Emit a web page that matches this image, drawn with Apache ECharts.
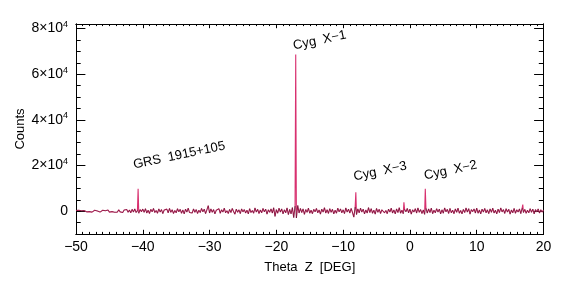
<!DOCTYPE html>
<html><head><meta charset="utf-8">
<script src="https://cdn.jsdelivr.net/npm/echarts@6/dist/echarts.min.js"></script>
<style>html,body{margin:0;padding:0;background:#fff}#c{width:566px;height:283px}</style>
</head><body><div id="c"></div>
<script>
// Sample grid of the scan (Theta Z, degrees)
const thetaStart = -50, thetaStep = 0.2;
// Background counts, one per 0.2 deg from -50 to 20
const noiseCounts = [
 300,-200,400,-300,200,-400,300,-100,-300,400,
 -200,300,-400,200,400,-300,100,300,-400,200,
 400,-300,200,-200,500,-400,300,-200,400,-500,
 300,-400,600,-300,400,-600,500,-200,700,-500,
 500,-700,800,-400,1000,-600,300,-900,700,-200,
 900,-500,1100,-800,400,-1000,800,-300,1200,-600,
 300,-900,1000,-400,700,-1100,500,-200,900,-700,
 1200,-500,600,-1000,300,-700,1100,-300,800,-900,
 500,-1200,900,-400,1300,-600,200,-800,1000,-500,
 700,-1000,400,-600,1200,-300,900,-1100,600,2400,
 -800,1000,-500,700,-1200,400,-300,1100,-900,600,
 -400,1300,-700,200,-1000,800,-600,1200,-200,-1300,
 900,-500,600,-1100,1000,-300,700,-800,400,-1200,
 1100,-600,300,-900,1400,-400,800,-1000,500,-700,
 1200,-300,900,-1300,600,-500,1000,-800,1500,-2300,
 700,-900,1300,-400,1000,-1200,600,-700,1400,-1500,
 800,-1200,1600,-2800,2200,-3000,2500,-800,1200,-600,
 1000,-1400,700,-500,1300,-900,400,-1100,800,-300,
 1200,-700,500,-1300,900,-400,1500,-800,600,-1000,
 1100,-500,800,-1200,400,-900,1300,-300,1000,-700,
 600,-1100,1400,-400,900,-800,1200,-600,-2600,1800,
 -1500,1000,-700,1300,-400,900,-1200,500,-800,1600,
 -600,1100,-900,400,-1300,1200,-500,800,-1000,600,
 1400,-700,300,-1100,900,-400,1300,-800,500,-1200,
 1000,-600,1500,-900,400,-1100,800,-300,1200,-700,
 900,-1300,600,-400,1100,-800,1400,-500,700,-1000,
 500,-1400,1200,-800,1000,-600,1300,-1100,400,-700,
 1100,-400,900,-1200,600,-900,1400,-300,800,-1000,
 1200,-700,400,-1100,1000,-500,1300,-900,300,-1200,
 800,-600,1400,-400,1100,-1300,700,-200,1000,-800,
 1300,-900,500,-1200,900,-400,1200,-700,600,-1100,
 1000,-500,1300,-800,400,-1200,900,-600,1400,-300,
 700,-1000,1100,-400,800,-1300,500,-700,1200,-900,
 600,-400,1000,-1100,1300,-600,800,-900,400,-700,
 1100,-500,900,-1200,700,-300,1000,-800,600,-400,
 500
];
// Source peaks
const peakTheta  = [-40.7, -17.1, -8.1, -0.9, 2.3, 16.9];
const peakCounts = [9800, 68600, 8300, 3900, 9800, 2900];
// Annotations
const sourceNames  = ['GRS  1915+105', 'Cyg  X\u22121', 'Cyg  X\u22123', 'Cyg  X\u22122'];
const sourceTheta  = [-41.2, -17.25, -8.2, 2.35];
const sourceCounts = [17400, 69600, 12200, 12600];
// Ticks
const xMajorTicks = [-50,-40,-30,-20,-10,0,10,20];
const xMinorTicks = [-50,-49,-48,-47,-46,-45,-44,-43,-42,-41,-40,-39,-38,-37,-36,-35,-34,-33,-32,-31,-30,-29,-28,-27,-26,-25,-24,-23,-22,-21,-20,-19,-18,-17,-16,-15,-14,-13,-12,-11,-10,-9,-8,-7,-6,-5,-4,-3,-2,-1,0,1,2,3,4,5,6,7,8,9,10,11,12,13,14,15,16,17,18,19,20];
const yMajorTicks = [0,20000,40000,60000,80000];
const yMinorTicks = [-5000,0,5000,10000,15000,20000,25000,30000,35000,40000,45000,50000,55000,60000,65000,70000,75000,80000];

const gridTheta = noiseCounts.map((v, i) => +(thetaStart + i * thetaStep).toFixed(1));
const noisePoints = noiseCounts.map((v, i) => [gridTheta[i], v]);
const points = noisePoints.slice();
peakTheta.forEach((t, i) => points.push([t, peakCounts[i]]));
points.sort((a, b) => a[0] - b[0]);

const fam = '"Liberation Sans", Arial, Helvetica, sans-serif';
const black = '#000';

function xAx(pos, ticks, len, withLabels) {
  return {
    type: 'value', position: pos, min: -50, max: 20,
    axisLine: { show: true, onZero: false, lineStyle: { color: black, width: 1 } },
    axisTick: { show: true, inside: true, length: len, customValues: ticks, lineStyle: { color: black, width: 1 } },
    axisLabel: withLabels ? {
      show: true, customValues: xMajorTicks, color: black, fontSize: 14, fontFamily: fam, margin: 6,
      formatter: v => (v < 0 ? '\u2212' + Math.abs(v) : String(v))
    } : { show: false },
    splitLine: { show: false },
    name: withLabels ? 'Theta  Z  [DEG]' : '',
    nameLocation: 'middle', nameGap: 27, nameMoveOverlap: false,
    nameTextStyle: { color: black, fontSize: 13, fontFamily: fam }
  };
}
function yAx(pos, ticks, len, withLabels) {
  return {
    type: 'value', position: pos, min: -10000, max: 82000,
    axisLine: { show: true, onZero: false, lineStyle: { color: black, width: 1 } },
    axisTick: { show: true, inside: true, length: len, customValues: ticks, lineStyle: { color: black, width: 1 } },
    axisLabel: withLabels ? {
      show: true, customValues: yMajorTicks, color: black, fontSize: 14, fontFamily: fam, margin: 8,
      formatter: v => (v === 0 ? '0' : (v / 10000) + '\u00d710{s|4}'),
      rich: { s: { fontSize: 9, fontFamily: fam, color: black, padding: [0, 0, 8, 0] } }
    } : { show: false },
    splitLine: { show: false },
    name: withLabels ? 'Counts' : '',
    nameLocation: 'middle', nameGap: 49, nameMoveOverlap: false,
    nameTextStyle: { color: black, fontSize: 13, fontFamily: fam }
  };
}

const chart = echarts.init(document.getElementById('c'), null, { renderer: 'canvas' });
chart.setOption({
  animation: false,
  backgroundColor: '#fff',
  grid: { left: 76, right: 22.5, top: 24, bottom: 49, containLabel: false },
  xAxis: [xAx('bottom', xMajorTicks, 4.2, true), xAx('bottom', xMinorTicks, 2.1, false),
          xAx('top', xMajorTicks, 4.2, false), xAx('top', xMinorTicks, 2.1, false)],
  yAxis: [yAx('left', yMajorTicks, 9.4, true), yAx('left', yMinorTicks, 4.7, false),
          yAx('right', yMajorTicks, 9.4, false), yAx('right', yMinorTicks, 4.7, false)],
  series: [{
    type: 'line', xAxisIndex: 0, yAxisIndex: 0, data: points,
    showSymbol: false, symbol: 'none',
    lineStyle: { color: '#d8306f', width: 1.1 }
  }, {
    type: 'line', xAxisIndex: 0, yAxisIndex: 0, data: noisePoints,
    showSymbol: false, symbol: 'none',
    lineStyle: { color: '#000', width: 0.8, opacity: 0.4 }
  }]
});
chart.setOption({
  graphic: sourceNames.map((n, i) => {
    const p = chart.convertToPixel({ xAxisIndex: 0, yAxisIndex: 0 }, [sourceTheta[i], sourceCounts[i]]);
    return {
      type: 'text', x: p[0], y: p[1], rotation: 12 * Math.PI / 180,
      style: { text: n, fontSize: 13, fontFamily: fam, fill: black,
               align: 'left', verticalAlign: 'bottom', textAlign: 'left', textVerticalAlign: 'bottom' }
    };
  })
});
</script></body></html>
